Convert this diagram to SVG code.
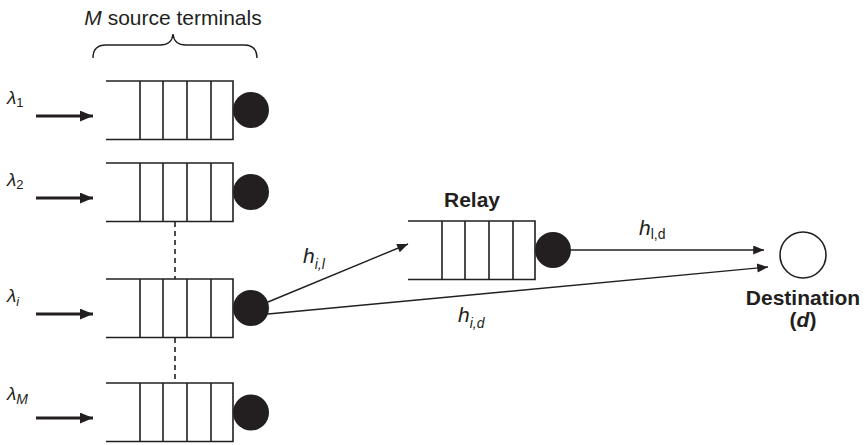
<svg xmlns="http://www.w3.org/2000/svg" width="865" height="445" viewBox="0 0 865 445">
<style>
.q{fill:none;stroke:#231f20;stroke-width:1.6}
.dot{fill:#231f20}
.t{font-family:"Liberation Sans",Arial,sans-serif;fill:#231f20}
.b{font-weight:bold}
.in{stroke:#231f20;stroke-width:3;fill:none}
.c{stroke:#231f20;stroke-width:1.4;fill:none}
</style>
<defs>
<marker id="ah" viewBox="0 0 12 10" refX="12" refY="5" markerWidth="13" markerHeight="11" markerUnits="userSpaceOnUse" orient="auto"><path d="M0,0 L12,5 L0,10 z" fill="#231f20"/></marker>
<marker id="ahs" viewBox="0 0 12 10" refX="12" refY="5" markerWidth="12" markerHeight="9" markerUnits="userSpaceOnUse" orient="auto"><path d="M0,0 L12,5 L0,10 z" fill="#231f20"/></marker>
<g id="queue">
<path class="q" d="M0,0 H127 V58.5 H0 M34,0 V58.5 M57,0 V58.5 M81,0 V58.5 M105,0 V58.5"/>
</g>
</defs>
<g id="header">
<text class="t" x="173" y="25" font-size="21" text-anchor="middle"><tspan font-style="italic">M</tspan> source terminals</text>
<path class="c" d="M93,58 Q93,45 106,45 L160,45 Q172,45 173,34 Q174,45 186,45 L244,45 Q257,45 257,58" stroke-width="1.3"/>
</g>
<g id="source1">
<use href="#queue" x="106" y="81"/>
<circle class="dot" cx="251" cy="110" r="18"/>
<text class="t" x="7" y="104" font-size="19" font-style="italic">λ<tspan font-size="13" dy="3" font-style="normal">1</tspan></text>
<line class="in" x1="36" y1="116" x2="93" y2="116" marker-end="url(#ah)"/>
</g>
<g id="source2">
<use href="#queue" x="106" y="163"/>
<circle class="dot" cx="251" cy="192" r="18"/>
<text class="t" x="7" y="186" font-size="19" font-style="italic">λ<tspan font-size="13" dy="3" font-style="normal">2</tspan></text>
<line class="in" x1="36" y1="198" x2="93" y2="198" marker-end="url(#ah)"/>
</g>
<g id="sourcei">
<use href="#queue" x="106" y="279"/>
<circle class="dot" cx="251" cy="308" r="18"/>
<text class="t" x="7" y="302" font-size="19" font-style="italic">λ<tspan font-size="13" dy="4">i</tspan></text>
<line class="in" x1="36" y1="314" x2="93" y2="314" marker-end="url(#ah)"/>
</g>
<g id="sourceM">
<use href="#queue" x="106" y="383"/>
<circle class="dot" cx="251" cy="412.5" r="18"/>
<text class="t" x="7" y="400" font-size="19" font-style="italic">λ<tspan font-size="14" dy="4">M</tspan></text>
<line class="in" x1="36" y1="418" x2="93" y2="418" marker-end="url(#ah)"/>
</g>
<g id="relay">
<text class="t b" x="472" y="207" font-size="21" text-anchor="middle">Relay</text>
<use href="#queue" x="408" y="221"/>
<circle class="dot" cx="553" cy="250" r="18"/>
</g>
<g id="destination">
<circle cx="803" cy="255" r="23" fill="#fff" stroke="#231f20" stroke-width="1.6"/>
<text class="t b" x="803" y="305" font-size="21" text-anchor="middle">Destination</text>
<text class="t b" x="803" y="327" font-size="21" text-anchor="middle">(<tspan font-style="italic">d</tspan>)</text>
</g>
<g id="connectors">
<line class="q" x1="175" y1="222" x2="175" y2="279" stroke-dasharray="5,4" stroke-width="1.2"/>
<line class="q" x1="175" y1="338" x2="175" y2="383" stroke-dasharray="5,4" stroke-width="1.2"/>
<line class="c" x1="268" y1="302" x2="408" y2="244" marker-end="url(#ahs)"/>
<line class="c" x1="268" y1="314" x2="768" y2="267" marker-end="url(#ahs)"/>
<line class="c" x1="571" y1="250" x2="764" y2="250" marker-end="url(#ahs)"/>
<text class="t" x="303" y="263" font-size="21" font-style="italic">h<tspan font-size="14" dy="6">i,l</tspan></text>
<text class="t" x="458" y="322" font-size="21" font-style="italic">h<tspan font-size="14" dy="6">i,d</tspan></text>
<text class="t" x="639" y="235" font-size="21" font-style="italic">h<tspan font-size="14" dy="4" font-style="normal">l,d</tspan></text>
</g>
</svg>
